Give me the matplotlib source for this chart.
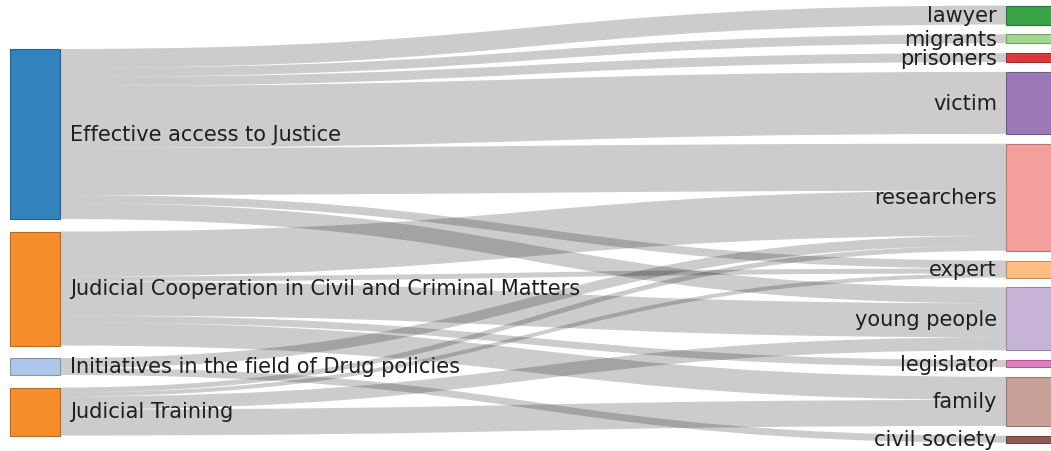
import numpy as np
import matplotlib.pyplot as plt
from matplotlib.path import Path
from matplotlib.patches import PathPatch, Rectangle
import matplotlib.colors as mcolors

# nodes
sources = ["Effective access to Justice",
           "Judicial Cooperation in Civil and Criminal Matters",
           "Initiatives in the field of Drug policies",
           "Judicial Training"]
targets = ["lawyer", "migrants", "prisoners", "victim", "researchers",
           "expert", "young people", "legislator", "family", "civil society"]

source_colors = ["#3182bd", "#f68e2c", "#aec7e8", "#f68e2c"]
target_colors = ["#3aa346", "#a1d88f", "#d9393c", "#9b78b8", "#f5a09d",
                 "#fdbd80", "#c7b3d6", "#de7fc0", "#c7a097", "#8f5b52"]

# links (source index, target index, value)
link_source = [0, 0, 0, 0, 0, 0, 0,
               1, 1, 1, 1, 1,
               2, 2,
               3, 3, 3, 3]
link_target = [0, 1, 2, 3, 4, 5, 6,
               4, 5, 6, 7, 8,
               4, 9,
               4, 5, 6, 8]
link_value = [19, 9, 9, 62, 47, 8, 16,
              45, 5, 34, 7, 23,
              10, 7,
              5, 4, 13, 26]

W, H = 1051, 452
node_w = 50
left_x, right_x = 10, 1006
left_top, left_pad = 50, 12.5
right_top, right_pad = 6.5, 9.8


def darker(c, f=0.75):
    r, g, b = mcolors.to_rgb(c)
    return (r * f, g * f, b * f)


src_tot = [sum(v for s, v in zip(link_source, link_value) if s == i) for i in range(len(sources))]
tgt_tot = [sum(v for t, v in zip(link_target, link_value) if t == i) for i in range(len(targets))]

src_y = np.cumsum([0] + [t + left_pad for t in src_tot[:-1]]) + left_top
tgt_y = np.cumsum([0] + [t + right_pad for t in tgt_tot[:-1]]) + right_top

fig = plt.figure(figsize=(W / 100, H / 100), dpi=100)
ax = fig.add_axes([0, 0, 1, 1])
ax.set_xlim(0, W)
ax.set_ylim(H, 0)
ax.axis('off')

# offsets inside nodes: out-links sorted by target, in-links sorted by source
order = sorted(range(len(link_value)), key=lambda k: (link_source[k], link_target[k]))
s_off = list(src_y)
y0 = {}
for k in order:
    y0[k] = s_off[link_source[k]]
    s_off[link_source[k]] += link_value[k]

order = sorted(range(len(link_value)), key=lambda k: (link_target[k], link_source[k]))
t_off = list(tgt_y)
y1 = {}
for k in order:
    y1[k] = t_off[link_target[k]]
    t_off[link_target[k]] += link_value[k]

x0 = left_x + node_w
x1 = right_x
xm = (x0 + x1) / 2
for k in range(len(link_value)):
    v = link_value[k]
    a, b = y0[k], y1[k]
    verts = [(x0, a), (xm, a), (xm, b), (x1, b),
             (x1, b + v), (xm, b + v), (xm, a + v), (x0, a + v), (x0, a)]
    codes = [Path.MOVETO, Path.CURVE4, Path.CURVE4, Path.CURVE4,
             Path.LINETO, Path.CURVE4, Path.CURVE4, Path.CURVE4, Path.CLOSEPOLY]
    ax.add_patch(PathPatch(Path(verts, codes), facecolor='black', alpha=0.2,
                           edgecolor='none'))

for i, name in enumerate(sources):
    ax.add_patch(Rectangle((left_x, src_y[i]), node_w, src_tot[i],
                           facecolor=source_colors[i], edgecolor=darker(source_colors[i]), lw=0.8))
    ax.text(left_x + node_w + 10, src_y[i] + src_tot[i] / 2, name, ha='left', va='center',
            fontsize=15, color='#1e1e1e', family='DejaVu Sans')

for i, name in enumerate(targets):
    ax.add_patch(Rectangle((right_x, tgt_y[i]), node_w, tgt_tot[i],
                           facecolor=target_colors[i], edgecolor=darker(target_colors[i]), lw=0.8))
    ax.text(right_x - 9, tgt_y[i] + tgt_tot[i] / 2, name, ha='right', va='center',
            fontsize=15, color='#1e1e1e', family='DejaVu Sans')

plt.savefig('out.png', dpi=100)
